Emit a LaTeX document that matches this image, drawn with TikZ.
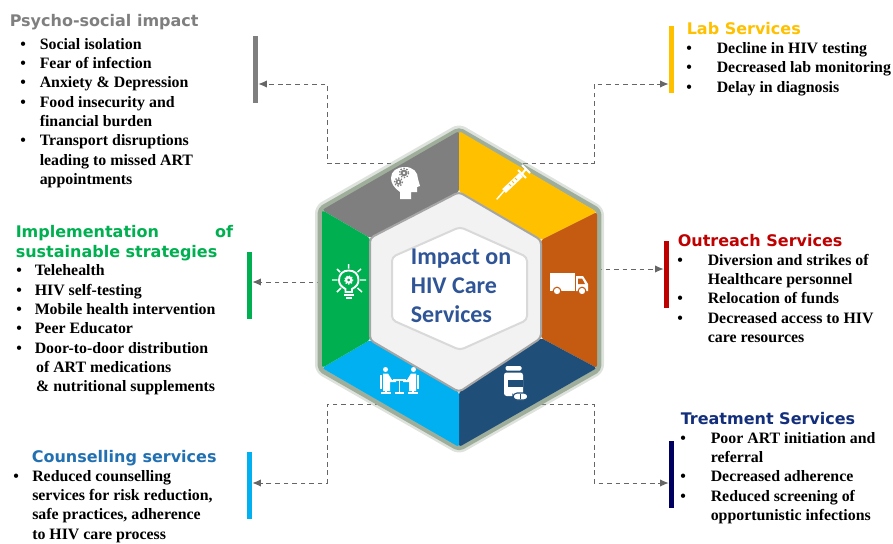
\documentclass[tikz,border=0pt]{standalone}
\usepackage{xcolor}
\usepackage{fontspec}
\setmainfont{Liberation Serif}
\newfontfamily\headfont{DejaVu Sans}
\newfontfamily\hubfont{Carlito}
\usetikzlibrary{positioning}
\usetikzlibrary{arrows.meta}
\definecolor{psycol}{HTML}{7F7F7F}
\definecolor{labcol}{HTML}{FFC000}
\definecolor{outcol}{HTML}{C55A11}
\definecolor{trecol}{HTML}{1F4E79}
\definecolor{coucol}{HTML}{00B0F0}
\definecolor{impcol}{HTML}{00B050}
\definecolor{hubcol}{HTML}{2F5597}
\definecolor{framecol}{HTML}{9FAE9B}
\tikzset{
    head/.style = {anchor=base west, inner sep=0pt, font=\headfont\bfseries\fontsize{12}{14.5}\selectfont, align=left},
    items/.style = {anchor=north west, inner sep=0pt, font=\bfseries\fontsize{11.9}{14.5}\selectfont, align=left},
    bar/.style = {rectangle, inner sep=0pt, minimum width=3.75pt, minimum height=50.25pt},
    seg/.style = {rounded corners=2pt},
    link/.style = {dash pattern=on 3.6pt off 2.8pt, draw=black!60, line width=0.75pt, -{Latex[length=6.5pt,width=5.5pt,fill=black!60]}},
}
\begin{document}
\begin{tikzpicture}[x=0.75pt,y=-0.75pt]
\useasboundingbox (0,0) rectangle (893,543);
% bars
\node[bar,fill=psycol] (psybar) at (255.5,69.5) {};
\node[bar,fill=labcol] (labbar) at (671.5,59.5) {};
\node[bar,fill=red!75!black] (outbar) at (666.5,274.5) {};
\node[bar,fill=blue!38!black] (trebar) at (671.5,474.8) {};
\node[bar,fill=coucol] (coubar) at (249.5,485.5) {};
\node[bar,fill=impcol] (impbar) at (249.5,285.5) {};
% ends of the links on the hexagon
\coordinate (psyhex) at (400,163);
\coordinate (labhex) at (523,163);
\coordinate (outhex) at (597,269);
\coordinate (trehex) at (541,404);
\coordinate (couhex) at (380,404);
\coordinate (imphex) at (322,282);
%
\draw[link] (psyhex) -- (327,163) -- (327,84) -- (psybar.east |- 0,84);
\draw[link] (labhex) -- (594,163) -- (594,84) -- (labbar.west |- 0,84);
\draw[link] (outhex) -- (outbar.west |- 0,269);
\draw[link] (trehex) -- (594,404) -- (594,483) -- (trebar.west |- 0,483);
\draw[link] (couhex) -- (327,404) -- (327,483) -- (coubar.east |- 0,483);
\draw[link] (imphex) -- (impbar.east |- 0,282);
% frame of the hexagon
\draw[draw=framecol,line width=6pt,line join=round,rounded corners=4pt,opacity=0.35] (459,128) -- (600,210) -- (600,370) -- (459,450) -- (319,370) -- (319,208) -- cycle;
\draw[draw=framecol,line width=3.5pt,line join=round,rounded corners=3pt] (459,129.5) -- (599,210.5) -- (599,369.5) -- (459,449) -- (320,369.5) -- (320,209) -- cycle;
% sectors
\fill[seg,psycol] (322,210) -- (459,131) -- (459,192) -- (370,238) -- cycle;
\fill[seg,labcol] (459,131) -- (597,212) -- (541,240) -- (459,192) -- cycle;
\fill[seg,outcol] (597,212) -- (597,368) -- (541,338) -- (541,240) -- cycle;
\fill[seg,trecol] (597,368) -- (459,447) -- (459,392) -- (541,338) -- cycle;
\fill[seg,coucol] (459,447) -- (322,368) -- (370,340) -- (459,392) -- cycle;
\fill[seg,impcol] (322,368) -- (322,210) -- (370,238) -- (370,340) -- cycle;
% middle
\draw[draw=black!35,fill=black!5,line width=1.5pt,rounded corners=3pt] (459,192) -- (541,240) -- (541,338) -- (459,392) -- (370,340) -- (370,238) -- cycle;
\draw[draw=black!15,fill=white,line width=1.5pt,rounded corners=3pt] (460,227) -- (527,257) -- (527,320) -- (460,350) -- (392,320) -- (392,257) -- cycle;
\node[inner sep=0pt,align=left,text=hubcol,font=\hubfont\bfseries\fontsize{18}{21.7}\selectfont] (hub) at (461,286) {Impact on\\HIV Care\\Services};
% head icon
\fill[white] (400,199) -- (400,192) .. controls (394,188) and (391,183) .. (391,178) .. controls (391,171) and (397,167) .. (405,167) .. controls (413,167) and (418,172) .. (418,179) -- (420,186) -- (417,187) -- (417,192) -- (411,192) -- (411,199) -- cycle;
\fill[psycol] (404,173) circle (3.4);
\draw[psycol,line width=1pt,dash pattern=on 1pt off 1.2pt] (404,173) circle (4.6);
\fill[white] (404,173) circle (1.4);
\fill[psycol] (398.5,182) circle (2.8);
\draw[psycol,line width=1pt,dash pattern=on 1pt off 1.2pt] (398.5,182) circle (3.9);
\fill[white] (398.5,182) circle (1.2);
% syringe icon
\draw[white,line width=4pt] (504,191) -- (521,175);
\draw[white,line width=1.1pt,line cap=round] (497,199) -- (504,191);
\draw[white,line width=1.4pt] (518,170) -- (526,178);
\draw[white,line width=1.5pt] (521,175) -- (526,169);
\draw[white,line width=1.4pt] (522,165) -- (530,173);
\draw[labcol,line width=0.7pt] (509,184) -- (511,186) (512,181) -- (514,183) (515,178) -- (517,180);
% truck icon
\fill[white] (550,273) rectangle (575,291);
\fill[white] (576,276) -- (583,276) -- (588,284) -- (588,291) -- (576,291) -- cycle;
\fill[outcol] (578,278.5) -- (582,278.5) -- (585,284) -- (578,284) -- cycle;
\filldraw[fill=white,draw=outcol,line width=0.8pt] (557,291) circle (3.8);
\filldraw[fill=white,draw=outcol,line width=0.8pt] (582,291) circle (3.8);
% bottle icon
\fill[white,rounded corners=1pt] (505.5,366) rectangle (521.5,370.5);
\fill[white,rounded corners=2pt] (504,372.5) rectangle (523,396);
\fill[trecol] (508,380) rectangle (523,387);
\filldraw[fill=white,draw=trecol,rounded corners=3pt,line width=0.8pt] (513,393) rectangle (528,400);
\draw[trecol,line width=0.6pt] (520,394) -- (520,399);
% people icon
\fill[white] (385.5,369.5) circle (2.5);
\fill[white] (413.5,369.5) circle (2.5);
\fill[white] (383,373.5) -- (388,373.5) -- (392,380) -- (396,380) -- (396,382) -- (390,382) -- (390,391) -- (383,391) -- cycle;
\fill[white] (416,373.5) -- (411,373.5) -- (407,380) -- (403,380) -- (403,382) -- (409,382) -- (409,391) -- (416,391) -- cycle;
\draw[white,line width=1pt] (381,375) -- (381,389);
\draw[white,line width=1pt] (418,375) -- (418,389);
\draw[white,line width=1pt] (393,380) -- (406,380) (399.5,380) -- (399.5,393) (395,393) -- (404,393);
\draw[white,line width=1pt] (381,393) -- (391,393) (408,393) -- (418,393) (386,391) -- (386,393) (413,391) -- (413,393);
% bulb icon
\draw[white,line width=1.4pt] (345.5,292) -- (345.5,289) .. controls (341,286.5) and (339,284) .. (339,280) .. controls (339,274) and (343,270.5) .. (348.7,270.5) .. controls (354.5,270.5) and (358.5,274) .. (358.5,280) .. controls (358.5,284) and (356.5,286.5) .. (352,289) -- (352,292) -- cycle;
\draw[white,line width=1.6pt] (348.7,280) circle (2.6);
\draw[white,line width=1pt,dash pattern=on 1pt off 1pt] (348.7,280) circle (4);
\draw[white,line width=1.2pt] (344,295) -- (353.5,295);
\draw[white,line width=1.2pt] (346,298) -- (351.5,298);
\draw[white,line width=1.1pt] (348.7,264) -- (348.7,268.5) (337,269) -- (340,272) (361,269) -- (357.5,272) (332,280) -- (337.5,280) (360,280) -- (366,280) (337,292) -- (341,288) (362,292) -- (357.5,288);
% psycho-social
\node[head,text=psycol] (psyhead) at (9.5,26.7) {Psycho-social impact};
\node[items] (psybul) at (20,35.5) {\strut•\\•\\•\\•\\ \\•};
\node[items] (psytxt) at (39.5,35.5) {\strut Social isolation\\Fear of infection\\Anxiety \& Depression\\Food insecurity and\\financial burden\\Transport disruptions\\leading to missed ART\\appointments};
% lab
\node[head,text=labcol] (labhead) at (686.5,34.5) {Lab Services};
\node[items] (labbul) at (686,39.8) {\strut•\\•\\•};
\node[items] (labtxt) at (716.5,39.8) {\strut Decline in HIV testing\\Decreased lab monitoring\\Delay in diagnosis};
% outreach
\node[head,text=red!75!black] (outhead) at (677.5,246) {Outreach Services};
\node[items] (outbul) at (677,251.5) {\strut•\\ \\•\\•};
\node[items] (outtxt) at (707.5,251.5) {\strut Diversion and strikes of\\Healthcare personnel\\Relocation of funds\\Decreased access to HIV\\care resources};
% treatment
\node[head,text=blue!25!trecol!80!black] (trehead) at (680.5,424) {Treatment Services};
\node[items] (trebul) at (680,429.5) {\strut•\\ \\•\\•};
\node[items] (tretxt) at (710.5,429.5) {\strut Poor ART initiation and\\referral\\Decreased adherence\\Reduced screening of\\opportunistic infections};
% counselling
\node[head,text=coucol!30!hubcol] (couhead) at (31.5,462) {Counselling services};
\node[items] (coubul) at (13,467.5) {\strut•};
\node[items] (coutxt) at (32,467.5) {\strut Reduced counselling\\services for risk reduction,\\safe practices, adherence\\to HIV care process};
% implementation
\node[head,text=impcol,anchor=north west] (imphead) at (15.5,224) {\strut Implementation\hspace{42pt}of\\sustainable strategies};
\node[items] (impbul) at (16,262) {\strut•\\•\\•\\•\\•};
\node[items] (imptxt) at (34.5,262) {\strut Telehealth\\HIV self-testing\\Mobile health intervention\\Peer Educator\\Door-to-door distribution\\\hspace*{1pt}of ART medications\\\hspace*{1pt}\& nutritional supplements};
\end{tikzpicture}
\end{document}
